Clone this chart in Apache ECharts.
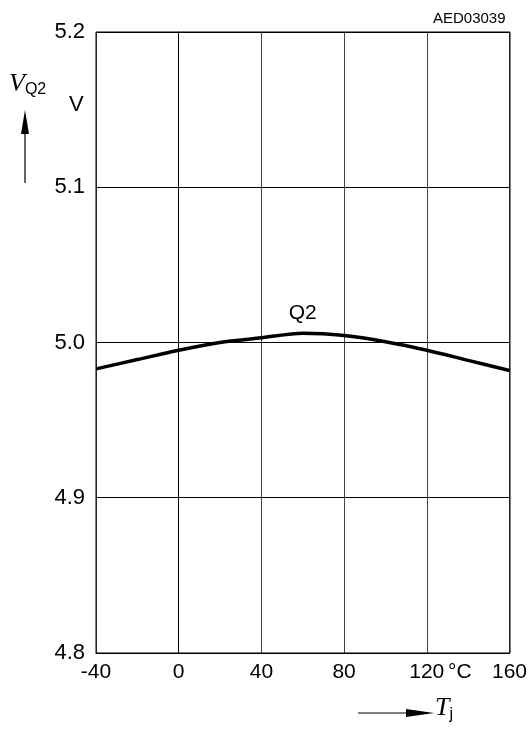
<!DOCTYPE html>
<html>
<head>
<meta charset="utf-8">
<script src="https://cdn.jsdelivr.net/npm/echarts@6/dist/echarts.min.js"></script>
<style>
  html, body { margin: 0; padding: 0; background: #fff; }
  #chart { width: 530px; height: 731px; }
</style>
</head>
<body>
<div id="chart"></div>
<script>
// Junction temperature Tj (°C) and output voltage VQ2 (V)
const tempC = [-40, -20, 0, 20, 40, 60, 80, 100, 120, 140, 160];
const vq2 = [4.983, 4.989, 4.995, 5.0, 5.003, 5.006, 5.0045, 5.0005, 4.995, 4.9885, 4.982];
const xTicks = [-40, 0, 40, 80, 120, 160];
const yTicks = [4.8, 4.9, 5.0, 5.1, 5.2];
const curveName = 'Q2';

const FONT = '"Liberation Sans", Arial, sans-serif';
const SERIF = '"Liberation Serif", "Times New Roman", serif';

const chart = echarts.init(document.getElementById('chart'));

const option = {
  animation: false,
  backgroundColor: '#fff',
  grid: { left: 96, right: 20, top: 32, bottom: 78 },
  xAxis: {
    type: 'value',
    min: xTicks[0],
    max: xTicks[xTicks.length - 1],
    interval: 40,
    axisLine: { show: true, lineStyle: { color: '#000', width: 1 } },
    axisTick: { show: false },
    splitLine: { show: true, lineStyle: { color: '#444', width: 1 } },
    axisLabel: {
      color: '#000', fontFamily: FONT, fontSize: 21, margin: 9,
      formatter: v => xTicks.includes(v) ? String(v) : ''
    }
  },
  yAxis: {
    type: 'value',
    min: yTicks[0],
    max: yTicks[yTicks.length - 1],
    interval: 0.1,
    axisLine: { show: true, lineStyle: { color: '#000', width: 1 } },
    axisTick: { show: false },
    splitLine: { show: true, lineStyle: { color: '#000', width: 1 } },
    axisLabel: {
      color: '#000', fontFamily: FONT, fontSize: 22, margin: 11,
      formatter: v => v.toFixed(1)
    }
  },
  series: [{
    type: 'line',
    name: curveName,
    data: tempC.map((t, i) => [t, vq2[i]]),
    smooth: 0.3,
    symbol: 'none',
    lineStyle: { color: '#000', width: 3.5 },
    markPoint: {
      symbol: 'circle', symbolSize: 0,
      label: { show: true, formatter: curveName, color: '#000', fontFamily: FONT, fontSize: 21, offset: [0, -20] },
      data: [{ coord: [60, 5.006] }]
    }
  }],
  graphic: [
    // plot frame
    { type: 'rect', shape: { x: 96, y: 32, width: 414, height: 621 }, style: { fill: 'none', stroke: '#000', lineWidth: 1 }, z: 10 },
    // drawing number
    { type: 'text', left: 433, top: 11, style: { text: 'AED03039', fill: '#000', font: '15px ' + FONT } },
    // y axis title
    { type: 'text', left: 9, top: 71, style: {
        text: '{v|V}{s|Q2}',
        rich: {
          v: { font: 'italic 26px ' + SERIF, fill: '#000' },
          s: { font: '16px ' + FONT, fill: '#000', padding: [12, 0, 0, 0] }
        }
    } },
    { type: 'text', left: 69, top: 94, style: { text: 'V', fill: '#000', font: '22px ' + FONT } },
    { type: 'line', shape: { x1: 25, y1: 183, x2: 25, y2: 130 }, style: { stroke: '#000', lineWidth: 1.2 } },
    { type: 'polygon', shape: { points: [[25, 110], [21, 134], [29, 134]] }, style: { fill: '#000' } },
    // x axis unit
    { type: 'text', left: 448, top: 662, style: { text: '°C', fill: '#000', font: '21px ' + FONT } },
    // x axis title
    { type: 'line', shape: { x1: 358, y1: 713, x2: 410, y2: 713 }, style: { stroke: '#000', lineWidth: 1.2 } },
    { type: 'polygon', shape: { points: [[434, 713], [406, 709], [406, 717]] }, style: { fill: '#000' } },
    { type: 'text', left: 435, top: 695, style: {
        text: '{t|T}{s|j}',
        rich: {
          t: { font: 'italic 26px ' + SERIF, fill: '#000' },
          s: { font: '16px ' + FONT, fill: '#000', padding: [14, 0, 0, 0] }
        }
    } }
  ]
};

chart.setOption(option);
</script>
</body>
</html>
